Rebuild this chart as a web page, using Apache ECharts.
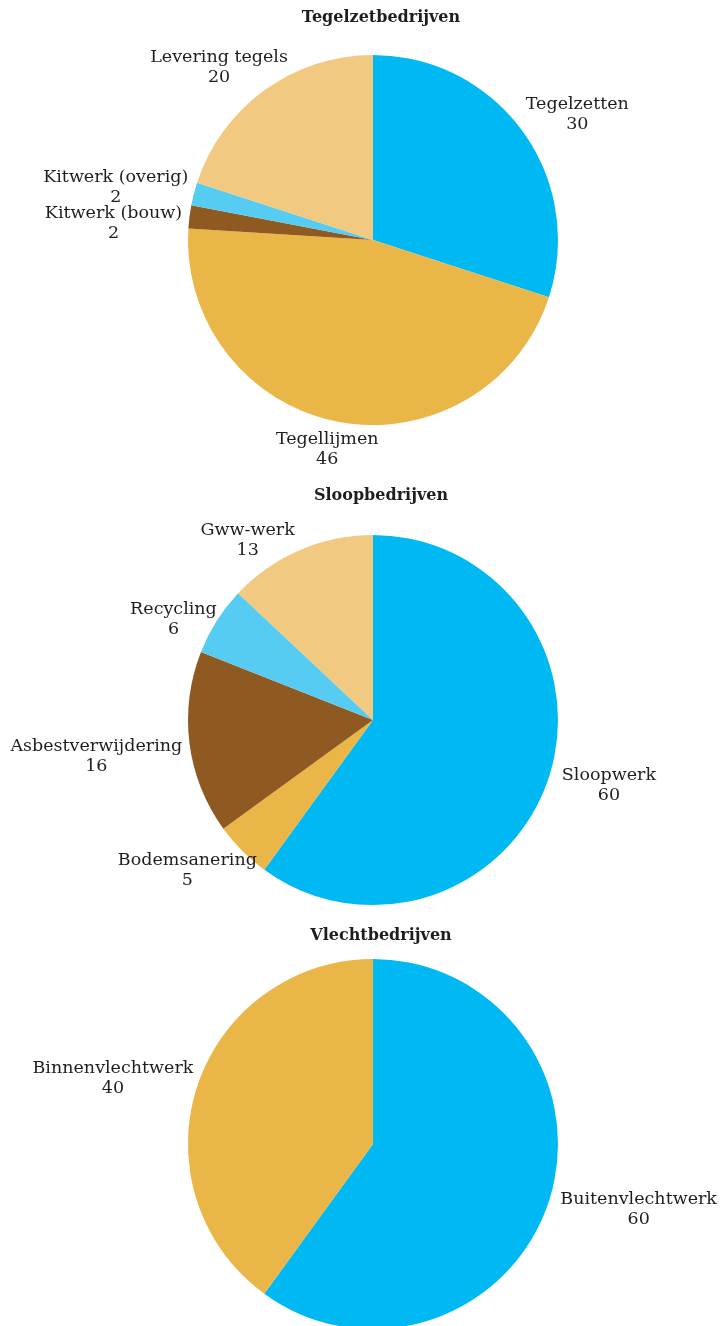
<!DOCTYPE html>
<html>
<head>
<meta charset="utf-8">
<script src="https://cdn.jsdelivr.net/npm/echarts@6/dist/echarts.min.js"></script>
<style>
  html, body { margin: 0; padding: 0; background: #fff; }
  #chart { width: 728px; height: 1326px; }
</style>
</head>
<body>
<div id="chart"></div>
<script>
// Omzetverdeling per activiteit (%), drie branches
const titles = ['Tegelzetbedrijven', 'Sloopbedrijven', 'Vlechtbedrijven'];

const tegelNames  = ['Tegelzetten', 'Tegellijmen', 'Kitwerk (bouw)', 'Kitwerk (overig)', 'Levering tegels'];
const tegelValues = [30, 46, 2, 2, 20];

const sloopNames  = ['Sloopwerk', 'Bodemsanering', 'Asbestverwijdering', 'Recycling', 'Gww-werk'];
const sloopValues = [60, 5, 16, 6, 13];

const vlechtNames  = ['Buitenvlechtwerk', 'Binnenvlechtwerk'];
const vlechtValues = [60, 40];

// Slice colours, in slice order
const palette = ['#00b9f2', '#ebb648', '#8f5a22', '#56ccf2', '#f2c980'];

// Layout
const FONT = 'DejaVu Serif';
const CX = 373;
const RADIUS = 185;
const pieCentersY = [240, 720, 1144];
const titleTops = [5, 483, 923];
const LABEL_GAP_LEFT = 193;      // distance from the centre to the inner edge of a label
const LABEL_GAP_RIGHT = 201;
const labelNudge = {             // small hand shifts where labels crowd each other
  'Kitwerk (bouw)': [0, 10],
  'Gww-werk': [-30, 16],
  'Recycling': [0, 14],
  'Asbestverwijdering': [0, 10]
};

function makeSeries(names, values, cy) {
  const total = values.reduce((a, b) => a + b, 0);
  const mids = [];
  let cum = 0;
  values.forEach(v => { mids.push(2 * Math.PI * (cum + v / 2) / total); cum += v; });
  return {
    type: 'pie',
    center: [CX, cy],
    radius: RADIUS,
    startAngle: 90,
    clockwise: true,
    avoidLabelOverlap: false,
    silent: true,
    itemStyle: { borderWidth: 0 },
    label: {
      show: true,
      position: 'outside',
      formatter: '{b}\n{c}',
      fontFamily: FONT,
      fontSize: 17.5,
      lineHeight: 20,
      color: '#1e1e1e'
    },
    labelLine: { show: false },
    labelLayout: function (p) {
      const a = mids[p.dataIndex];
      const dx = Math.sin(a), dy = -Math.cos(a);
      const w = p.labelRect.width, h = p.labelRect.height;
      const gap = dx > 0 ? LABEL_GAP_RIGHT : LABEL_GAP_LEFT;
      const n = labelNudge[names[p.dataIndex]] || [0, 0];
      return {
        x: CX + dx * (gap + w / 2) + n[0],
        y: cy + dy * (LABEL_GAP_LEFT + h / 2) + n[1],
        align: 'center',
        verticalAlign: 'middle'
      };
    },
    data: names.map((n, i) => ({ name: n, value: values[i], itemStyle: { color: palette[i] } }))
  };
}

const chart = echarts.init(document.getElementById('chart'), null, { renderer: 'canvas' });
chart.setOption({
  animation: false,
  backgroundColor: '#ffffff',
  title: titles.map((t, i) => ({
    text: t,
    left: 376,
    top: titleTops[i],
    textAlign: 'center',
    textStyle: { fontFamily: FONT, fontWeight: 'bold', fontSize: 16, color: '#1e1e1e' }
  })),
  series: [
    makeSeries(tegelNames, tegelValues, pieCentersY[0]),
    makeSeries(sloopNames, sloopValues, pieCentersY[1]),
    makeSeries(vlechtNames, vlechtValues, pieCentersY[2])
  ]
});
</script>
</body>
</html>
